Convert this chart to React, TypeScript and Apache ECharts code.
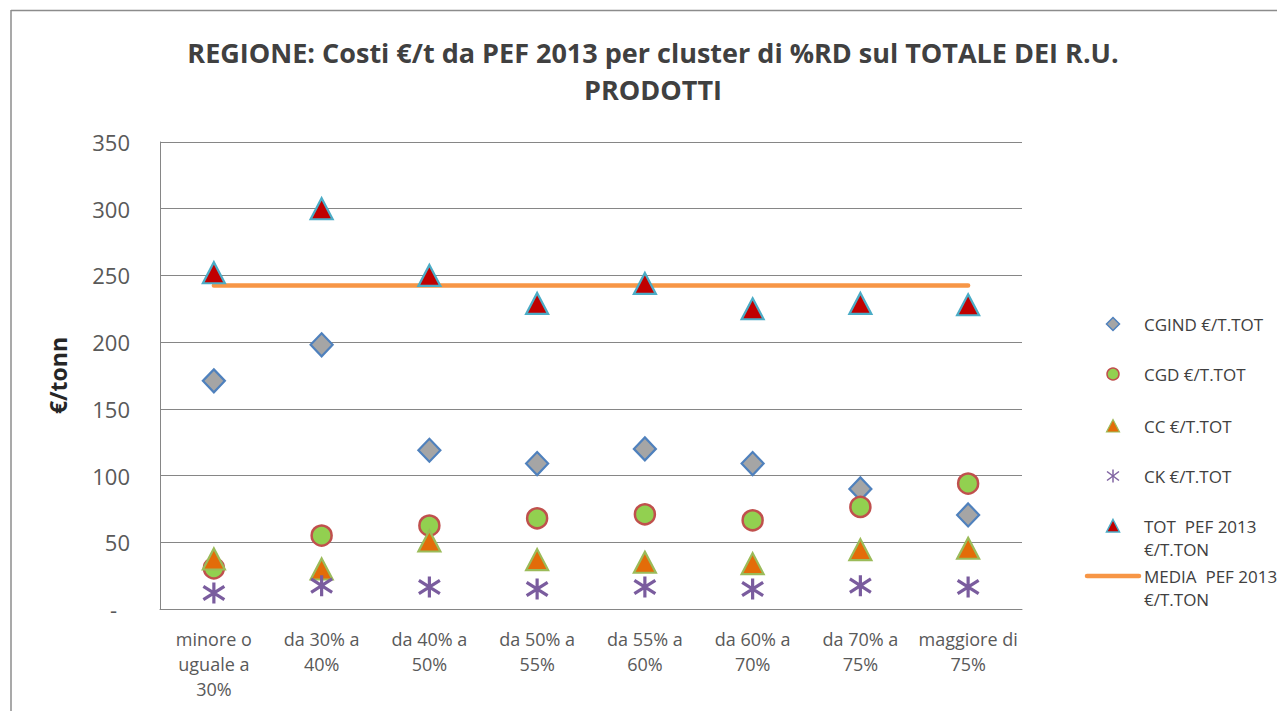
import React, { useEffect, useRef } from "react";
import * as echarts from "echarts";

const categories = [
  "minore o\nuguale a\n30%",
  "da 30% a\n40%",
  "da 40% a\n50%",
  "da 50% a\n55%",
  "da 55% a\n60%",
  "da 60% a\n70%",
  "da 70% a\n75%",
  "maggiore di\n75%",
];
const cgind = [171, 198, 119, 109, 120, 109, 90, 70.5];
const cgd = [30.5, 55, 62.5, 68, 71, 66.5, 76.5, 94];
const cc = [37.5, 30, 51, 37, 35, 34, 44.5, 45.5];
const ck = [12, 17.5, 16.5, 15, 16.5, 15, 17.5, 16.5];
const tot = [252, 300, 250, 229, 244, 225, 229, 228];
const media = [242.5, 242.5, 242.5, 242.5, 242.5, 242.5, 242.5, 242.5];
const legendNames = [
  "CGIND €/T.TOT",
  "CGD €/T.TOT",
  "CC €/T.TOT",
  "CK €/T.TOT",
  "TOT  PEF 2013\n€/T.TON",
  "MEDIA  PEF 2013\n€/T.TON",
];

const FONT = "'Open Sans', 'Noto Sans', sans-serif";
const STAR = "path://M11 0L11 22M1 4L21 18M21 4L1 18";

export default function App() {
  const ref = useRef<HTMLDivElement>(null);
  useEffect(() => {
    if (!ref.current) return;
    const chart = echarts.init(ref.current, null, { renderer: "svg" });

    const lx = 1113;
    const tx = 1144;
    const ly = [324, 374, 426, 476, 526, 576];
    const txtStyle = (t: string) => ({
      text: t,
      fill: "#404040",
      font: `17px ${FONT}`,
      lineHeight: 23,
      verticalAlign: "top" as const,
    });
    const legendGraphics: any[] = [
      { type: "polygon", shape: { points: [[lx, ly[0] - 6.5], [lx + 6.5, ly[0]], [lx, ly[0] + 6.5], [lx - 6.5, ly[0]]] }, style: { fill: "#A5A5A5", stroke: "#4F81BD", lineWidth: 1.5 } },
      { type: "circle", shape: { cx: lx, cy: ly[1], r: 6 }, style: { fill: "#92D050", stroke: "#C0504D", lineWidth: 1.5 } },
      { type: "polygon", shape: { points: [[lx, ly[2] - 6.5], [lx + 6.5, ly[2] + 6], [lx - 6.5, ly[2] + 6]] }, style: { fill: "#E36C09", stroke: "#9BBB59", lineWidth: 1.2 } },
      { type: "line", shape: { x1: lx, y1: ly[3] - 6.5, x2: lx, y2: ly[3] + 6.5 }, style: { stroke: "#8064A2", lineWidth: 1.5 } },
      { type: "line", shape: { x1: lx - 6, y1: ly[3] - 4.5, x2: lx + 6, y2: ly[3] + 4.5 }, style: { stroke: "#8064A2", lineWidth: 1.5 } },
      { type: "line", shape: { x1: lx + 6, y1: ly[3] - 4.5, x2: lx - 6, y2: ly[3] + 4.5 }, style: { stroke: "#8064A2", lineWidth: 1.5 } },
      { type: "polygon", shape: { points: [[lx, ly[4] - 6.5], [lx + 6.5, ly[4] + 6], [lx - 6.5, ly[4] + 6]] }, style: { fill: "#C00000", stroke: "#4BACC6", lineWidth: 1.5 } },
      { type: "line", shape: { x1: 1087, y1: ly[5], x2: 1139, y2: ly[5] }, style: { stroke: "#F79646", lineWidth: 4.5, lineCap: "round" } },
    ];
    legendNames.forEach((n, i) => {
      legendGraphics.push({ type: "text", x: tx, y: ly[i] - 11.5, style: txtStyle(n) });
    });

    const markerBase = { type: "scatter" as const, z: 3 };

    chart.setOption({
      animation: false,
      backgroundColor: "#ffffff",
      textStyle: { fontFamily: FONT },
      title: {
        text: "REGIONE: Costi €/t da PEF 2013 per cluster di %RD sul TOTALE DEI R.U.\nPRODOTTI",
        left: 648,
        top: 29,
        textAlign: "center",
        textStyle: {
          fontFamily: FONT,
          fontSize: 27,
          fontWeight: "bold",
          color: "#404040",
          lineHeight: 37,
        },
      },
      grid: { left: 160, right: 255, top: 142, bottom: 102, containLabel: false },
      xAxis: {
        type: "category",
        data: categories,
        boundaryGap: true,
        axisLine: { lineStyle: { color: "#868686", width: 1 } },
        axisTick: { show: false },
        axisLabel: {
          interval: 0,
          color: "#595959",
          fontFamily: FONT,
          fontSize: 18,
          lineHeight: 25,
          margin: 17,
        },
      },
      yAxis: {
        type: "value",
        min: 0,
        max: 350,
        interval: 50,
        name: "€/tonn",
        nameLocation: "middle",
        nameGap: 91,
        nameTextStyle: { fontFamily: FONT, fontSize: 23, fontWeight: "bold", color: "#262626" },
        axisLine: { show: true, lineStyle: { color: "#868686", width: 1 } },
        axisTick: { show: false },
        splitLine: { lineStyle: { color: "#868686", width: 1 } },
        axisLabel: {
          color: "#595959",
          fontFamily: FONT,
          fontSize: 22,
          margin: 30,
          formatter: (v: number) => (v === 0 ? "{d|-}" : String(v)),
          rich: { d: { fontSize: 22, color: "#595959", padding: [0, 13, 0, 0] } },
        },
      },
      series: [
        {
          name: "MEDIA  PEF 2013 €/T.TON",
          type: "line",
          data: media,
          symbol: "none",
          z: 1,
          lineStyle: { color: "#F79646", width: 4.5, cap: "round" },
        },
        {
          ...markerBase,
          name: "CGIND €/T.TOT",
          data: cgind,
          symbol: "diamond",
          symbolSize: [22, 23],
          itemStyle: { color: "#A5A5A5", borderColor: "#4F81BD", borderWidth: 2.2, opacity: 1 },
        },
        {
          ...markerBase,
          name: "CGD €/T.TOT",
          data: cgd,
          symbol: "circle",
          symbolSize: 20,
          itemStyle: { color: "#92D050", borderColor: "#C0504D", borderWidth: 2.5, opacity: 1 },
        },
        {
          ...markerBase,
          name: "CC €/T.TOT",
          data: cc,
          symbol: "triangle",
          symbolSize: [22, 21],
          itemStyle: { color: "#E36C09", borderColor: "#9BBB59", borderWidth: 2.2, opacity: 1 },
        },
        {
          ...markerBase,
          name: "CK €/T.TOT",
          data: ck,
          symbol: STAR,
          symbolSize: [21, 21],
          itemStyle: { color: "none", borderColor: "#7A5C9E", borderWidth: 3.2, opacity: 1 },
        },
        {
          ...markerBase,
          name: "TOT  PEF 2013 €/T.TON",
          data: tot,
          symbol: "triangle",
          symbolSize: [22, 21],
          itemStyle: { color: "#C00000", borderColor: "#4BACC6", borderWidth: 2.2, opacity: 1 },
        },
      ],
      graphic: [
        { type: "line", shape: { x1: 11, y1: 10.5, x2: 1277, y2: 10.5 }, style: { stroke: "#8c8c8c", lineWidth: 1.5 } },
        { type: "line", shape: { x1: 11, y1: 10, x2: 11, y2: 711 }, style: { stroke: "#8c8c8c", lineWidth: 1.5 } },
        ...legendGraphics,
      ],
    });
    return () => chart.dispose();
  }, []);
  return (
    <div
      ref={ref}
      style={{ position: "fixed", left: 0, top: 0, width: 1277, height: 711 }}
    />
  );
}
